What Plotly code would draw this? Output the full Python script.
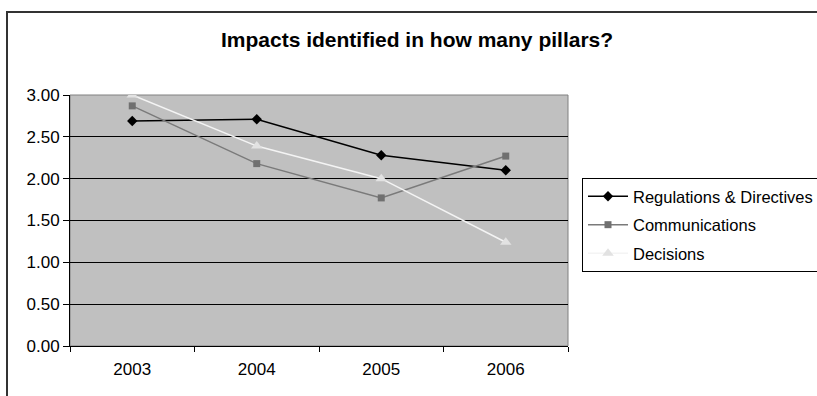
import plotly.graph_objects as go

# Chart data
years = ["2003", "2004", "2005", "2006"]
regulations = [2.69, 2.71, 2.28, 2.10]
communications = [2.87, 2.18, 1.77, 2.27]
decisions = [3.00, 2.39, 2.00, 1.24]
y_ticks = [0.0, 0.5, 1.0, 1.5, 2.0, 2.5, 3.0]
y_tick_labels = [f"{v:.2f}" for v in y_ticks]

FONT = "Liberation Sans, Arial, sans-serif"
W, H = 817, 396
L, R, T, B = 70, 249, 95, 50
PW, PH = W - L - R, H - T - B


def px_to_paper_x(px):
    return (px - L) / PW


def px_to_paper_y(py):
    return (H - B - py) / PH


fig = go.Figure()

series = [
    ("Regulations & Directives", regulations, "#000000", "#000000", "diamond", 8),
    ("Communications", communications, "#7a7a7a", "#707070", "square", 7),
    ("Decisions", decisions, "#f4f4f4", "#e2e2e2", "triangle-up", 10),
]
for i, (name, vals, lcol, mcol, sym, size) in enumerate(series):
    fig.add_trace(go.Scatter(
        x=years, y=vals, name=name, mode="lines+markers",
        line=dict(color=lcol, width=1.5),
        marker=dict(symbol=sym, size=size, color=mcol, line=dict(width=0)),
        legendgroup=f"g{i}",
    ))

fig.update_layout(
    width=W, height=H,
    margin=dict(l=L, r=R, t=T, b=B, pad=0, autoexpand=False),
    paper_bgcolor="white",
    plot_bgcolor="#c0c0c0",
    font=dict(family=FONT, size=16, color="#000000"),
    showlegend=True,
    legend=dict(
        x=px_to_paper_x(582), y=px_to_paper_y(178),
        xanchor="left", yanchor="top",
        bgcolor="white", bordercolor="#000000", borderwidth=1,
        font=dict(family=FONT, size=16.5, color="#000000"),
        tracegroupgap=4, itemwidth=40,
        traceorder="grouped",
    ),
    xaxis=dict(
        type="category", range=[-0.5, 3.5],
        showgrid=False, zeroline=False,
        showline=True, linecolor="#000000", linewidth=1,
        ticks="outside", tickson="boundaries", ticklen=5,
        tickcolor="#000000", tickwidth=1,
        ticklabelstandoff=8,
        tickfont=dict(family=FONT, size=17),
    ),
    yaxis=dict(
        range=[0, 3], tickvals=y_ticks, ticktext=y_tick_labels,
        showgrid=True, gridcolor="#000000", gridwidth=1,
        zeroline=False,
        showline=True, linecolor="#000000", linewidth=1,
        ticks="outside", ticklen=6, tickcolor="#000000", tickwidth=1,
        tickfont=dict(family=FONT, size=17),
    ),
    shapes=[
        # plot-area frame (top/right edges in gray)
        dict(type="rect", xref="paper", yref="paper", x0=0, x1=1, y0=0, y1=1,
             line=dict(color="#808080", width=1), layer="below"),
        # chart-area outline
        dict(type="line", xref="paper", yref="paper",
             x0=px_to_paper_x(7), x1=px_to_paper_x(7),
             y0=px_to_paper_y(12), y1=px_to_paper_y(420),
             line=dict(color="#333333", width=2)),
        dict(type="line", xref="paper", yref="paper",
             x0=px_to_paper_x(6), x1=px_to_paper_x(840),
             y0=px_to_paper_y(12), y1=px_to_paper_y(12),
             line=dict(color="#333333", width=2)),
    ],
    annotations=[
        dict(text="<b>Impacts identified in how many pillars?</b>",
             xref="paper", yref="paper",
             x=px_to_paper_x(417), y=px_to_paper_y(40),
             xanchor="center", yanchor="middle", showarrow=False,
             font=dict(family=FONT, size=21, color="#000000")),
    ],
)

fig.write_html("out.html")
